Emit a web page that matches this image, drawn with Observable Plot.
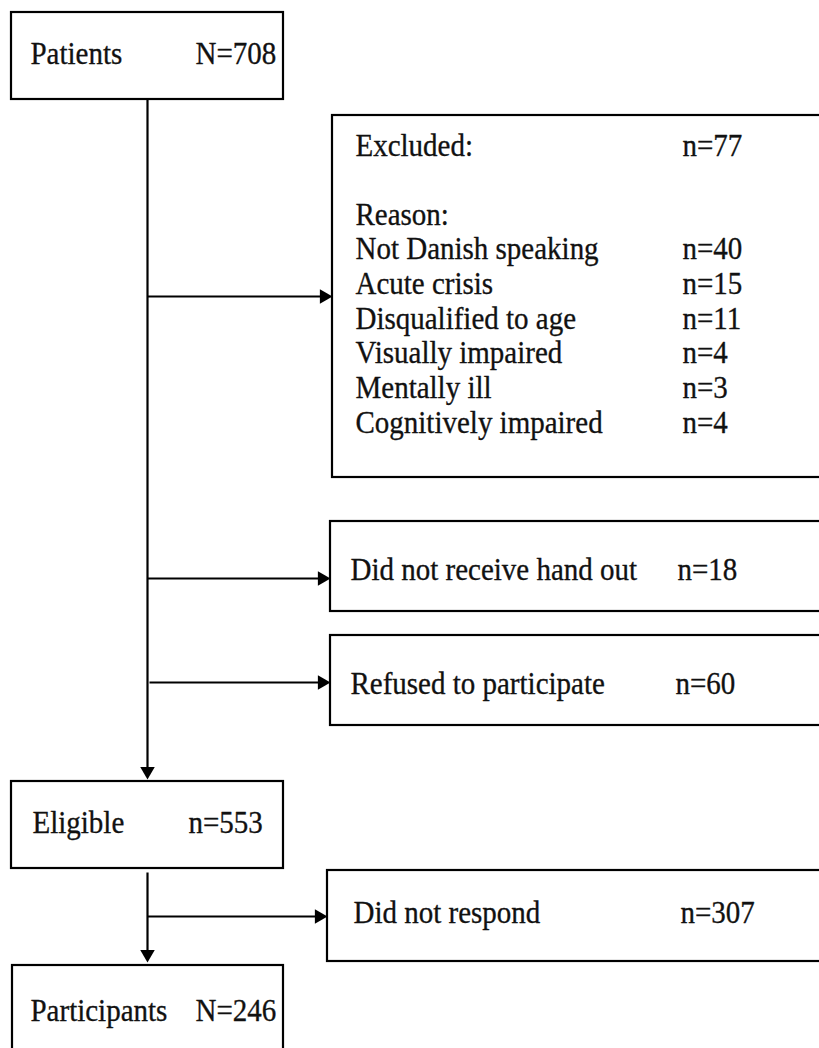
<!DOCTYPE html>
<html>
<head>
<meta charset="utf-8">
<script src="https://cdn.jsdelivr.net/npm/d3@7"></script>
<script src="https://cdn.jsdelivr.net/npm/@observablehq/plot@0.6"></script>
<style>
  html, body { margin: 0; padding: 0; background: #fff; overflow: hidden; }
  #chart svg { display: block; }
</style>
</head>
<body>
<div id="chart"></div>
<script>
// ---------- data ----------
const stageNames = ["Patients", "Eligible", "Participants"];
const stageCounts = ["N=708", "n=553", "N=246"];

const excludedLabel = "Excluded:";
const excludedTotal = "n=77";
const reasonHeader = "Reason:";
const reasonNames = ["Not Danish speaking", "Acute crisis", "Disqualified to age",
                     "Visually impaired", "Mentally ill", "Cognitively impaired"];
const reasonCounts = ["n=40", "n=15", "n=11", "n=4", "n=3", "n=4"];

const lossNames = ["Did not receive hand out", "Refused to participate", "Did not respond"];
const lossCounts = ["n=18", "n=60", "n=307"];

// ---------- layout (pixel space) ----------
const W = 819, H = 1048;
const FONT = "'Liberation Serif', 'Times New Roman', serif";
const FS = 29;
const spine = 147;

const stageBoxes = [
  {x1: 11, x2: 283, y1: 12,  y2: 99,   tx: 30, cx: 195, by: 63},
  {x1: 11, x2: 283, y1: 781, y2: 868,  tx: 32, cx: 188, by: 832},
  {x1: 12, x2: 283, y1: 965, y2: 1056, tx: 30, cx: 195, by: 1020}
];
const excludedBox = {x1: 332, x2: 826, y1: 115, y2: 477, tx: 355, cx: 682, by: 155, arrowY: 296};
const reasonHeaderY = 224;
const reasonStep = 34.7;
const lossBoxes = [
  {x1: 330, x2: 826, y1: 521, y2: 611, tx: 350, cx: 677, by: 579, arrowY: 578},
  {x1: 330, x2: 826, y1: 635, y2: 725, tx: 350, cx: 675, by: 693, arrowY: 682},
  {x1: 327, x2: 826, y1: 870, y2: 961, tx: 353, cx: 680, by: 922, arrowY: 916}
];

// ---------- build tables ----------
const boxes = [...stageBoxes, excludedBox, ...lossBoxes];

const texts = [];
stageNames.forEach((s, i) => {
  const b = stageBoxes[i];
  texts.push({x: b.tx, y: b.by, t: s});
  texts.push({x: b.cx, y: b.by, t: stageCounts[i]});
});
texts.push({x: excludedBox.tx, y: excludedBox.by, t: excludedLabel});
texts.push({x: excludedBox.cx, y: excludedBox.by, t: excludedTotal});
texts.push({x: excludedBox.tx, y: reasonHeaderY, t: reasonHeader});
reasonNames.forEach((r, i) => {
  const y = reasonHeaderY + (i + 1) * reasonStep;
  texts.push({x: excludedBox.tx, y, t: r});
  texts.push({x: excludedBox.cx, y, t: reasonCounts[i]});
});
lossNames.forEach((l, i) => {
  const b = lossBoxes[i];
  texts.push({x: b.tx, y: b.by, t: l});
  texts.push({x: b.cx, y: b.by, t: lossCounts[i]});
});

// arrowhead geometry (filled triangle)
const headR = 5.4;
const headA = Math.sqrt(Math.PI * headR * headR / (3 * Math.sqrt(3)));
const headLen = 3 * headA;

const lines = [];
const heads = [];
// vertical: Patients -> Eligible
{
  const tipY = stageBoxes[1].y1 - 2;
  lines.push({x1: spine, y1: stageBoxes[0].y2, x2: spine, y2: tipY - headLen + 1});
  heads.push({x: spine, y: tipY - 2 * headA, rot: 180});
}
// vertical: Eligible -> Participants
{
  const tipY = stageBoxes[2].y1 - 3;
  lines.push({x1: spine, y1: stageBoxes[1].y2 + 4, x2: spine, y2: tipY - headLen + 1});
  heads.push({x: spine, y: tipY - 2 * headA, rot: 180});
}
// horizontal side arrows
[excludedBox, ...lossBoxes].forEach((b, i) => {
  const tipX = b.x1;
  const startX = (i === 2) ? spine + 2 : spine;
  lines.push({x1: startX, y1: b.arrowY, x2: tipX - headLen + 1, y2: b.arrowY});
  heads.push({x: tipX - 2 * headA, y: b.arrowY, rot: 90});
});

// ---------- plot ----------
const chart = Plot.plot({
  width: W,
  height: H,
  margin: 0,
  x: {domain: [0, W], range: [0, W], axis: null},
  y: {domain: [0, H], range: [0, H], axis: null},
  style: {background: "#fff", overflow: "hidden"},
  marks: [
    Plot.rect(boxes, {x1: "x1", x2: "x2", y1: "y1", y2: "y2", fill: "none", stroke: "#000", strokeWidth: 2.2}),
    Plot.link(lines, {x1: "x1", y1: "y1", x2: "x2", y2: "y2", stroke: "#000", strokeWidth: 2.2}),
    Plot.dot(heads, {x: "x", y: "y", rotate: "rot", symbol: "triangle", r: headR, fill: "#000", stroke: "none"}),
    Plot.text(texts, {x: "x", y: "y", text: "t", textAnchor: "start", lineAnchor: "bottom",
                      fontSize: FS, fontFamily: FONT, fill: "#111", stroke: "#111", strokeWidth: 0.3,
                      className: "fc-label"})
  ]
});
document.getElementById("chart").appendChild(chart);
// slight vertical stretch of glyphs to match the reference's tall serif type
d3.select(chart).selectAll(".fc-label text").each(function () {
  const t = this.getAttribute("transform") || "";
  this.setAttribute("transform", t + " scale(1,1.07)");
});
</script>
</body>
</html>
